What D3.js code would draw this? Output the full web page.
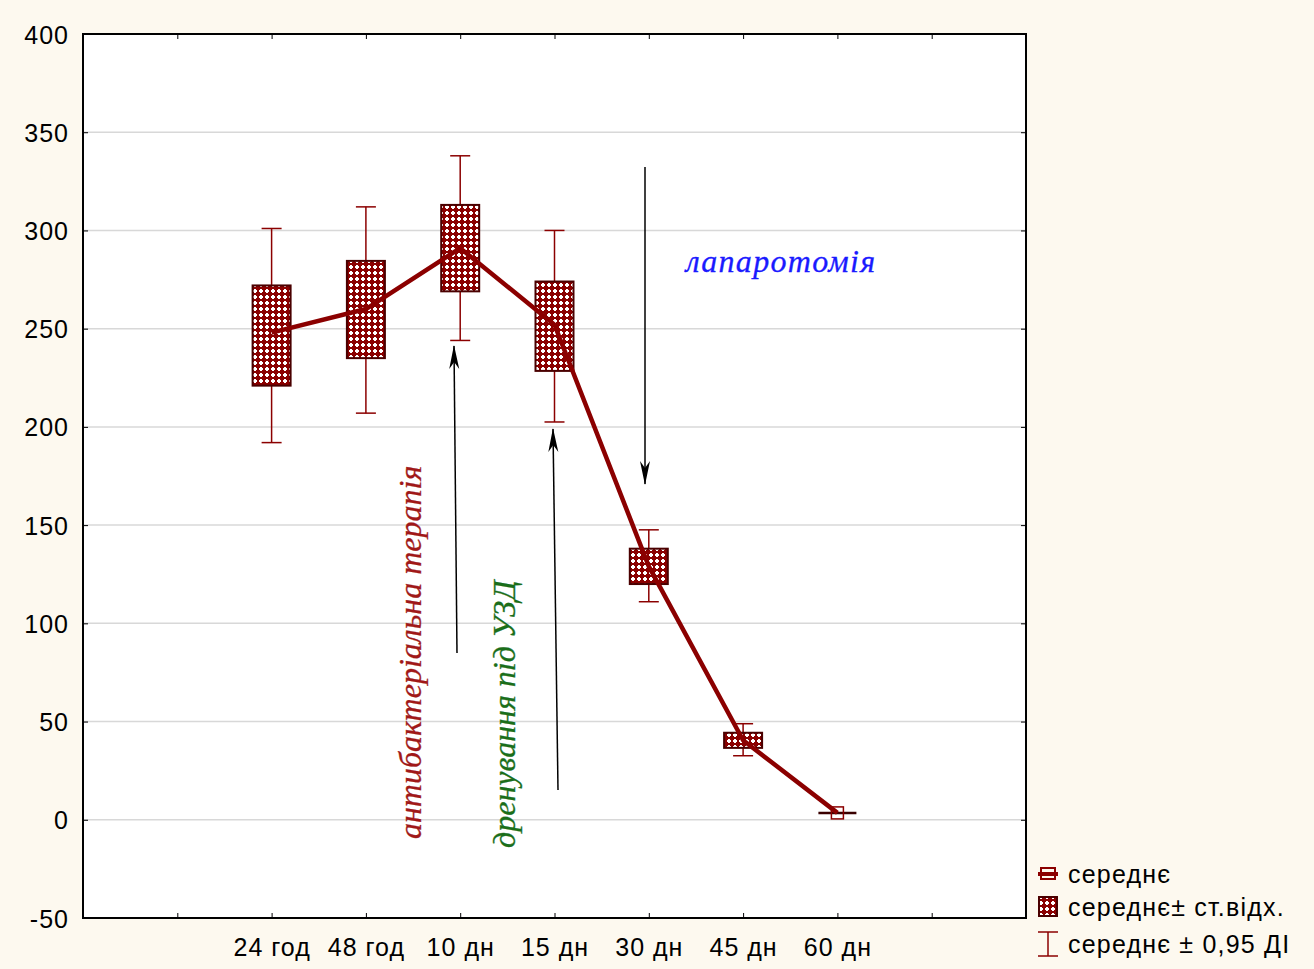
<!DOCTYPE html>
<html><head><meta charset="utf-8">
<script src="https://cdn.jsdelivr.net/npm/d3@7"></script>
<style>
body{margin:0;background:#fdf9ef;}
svg{display:block;}
</style></head>
<body>
<svg id="chart" width="1314" height="969"></svg>
<script>
const categories = ["24 год","48 год","10 дн","15 дн","30 дн","45 дн","60 дн"];
const catPos = [2,3,4,5,6,7,8];
const means = [248, 260, 291, 252, 129, 40.5, 3.5];
const sdLow = [221, 235, 269, 228.5, 120, 36.6, 3.5];
const sdHigh = [272, 284.5, 313, 274, 138, 44.3, 3.5];
const ciLow = [192, 207, 244, 202.5, 111, 32.6, 3.5];
const ciHigh = [301, 312, 338, 300, 147.6, 48.9, 3.5];
const yTicks = [-50,0,50,100,150,200,250,300,350,400];
const legendLabels = ["середнє","середнє± ст.відх.","середнє ± 0,95 ДІ"];

const svg = d3.select("#chart");
const L=83, R=1026, T=34, B=918;
const x = d3.scaleLinear().domain([0,10]).range([L,R]);
const y = d3.scaleLinear().domain([-50,400]).range([B,T]);
const red = "#8b0000", dark="#4a0000";

const defs = svg.append("defs");
const pat = defs.append("pattern").attr("id","chk").attr("patternUnits","userSpaceOnUse")
  .attr("width",6).attr("height",6);
pat.append("rect").attr("width",6).attr("height",6).attr("fill","#8b0000");
pat.append("rect").attr("x",2).attr("y",1).attr("width",2).attr("height",4).attr("fill","#fff");
pat.append("rect").attr("x",1).attr("y",2).attr("width",4).attr("height",2).attr("fill","#fff");
const mk = defs.append("marker").attr("id","arr").attr("viewBox","0 0 24 12")
  .attr("refX",23).attr("refY",6).attr("markerWidth",24).attr("markerHeight",12)
  .attr("markerUnits","userSpaceOnUse").attr("orient","auto");
mk.append("path").attr("d","M0,1 L24,6 L0,11 L7,6 Z").attr("fill","#000");

svg.append("rect").attr("x",L).attr("y",T).attr("width",R-L).attr("height",B-T).attr("fill","#fff");

// grid
svg.append("g").selectAll("line").data(yTicks.filter(d=>d>-50&&d<400)).join("line")
  .attr("x1",L).attr("x2",R).attr("y1",d=>y(d)).attr("y2",d=>y(d))
  .attr("stroke","#d8d8d8").attr("stroke-width",1.5);

// axes
const fontAx = "Liberation Sans, Arial, sans-serif";
const ya = svg.append("g").attr("transform",`translate(${L},0)`)
  .call(d3.axisLeft(y).tickValues(yTicks).tickSize(0).tickPadding(14).tickFormat(d=>String(d)));
ya.select(".domain").remove();
ya.selectAll("text").attr("font-family",fontAx).attr("font-size",25).attr("letter-spacing",1).attr("fill","#000")
  .attr("dy","0.36em");
const yr = svg.append("g").attr("transform",`translate(${R},0)`)
  .call(d3.axisLeft(y).tickValues(yTicks).tickSize(5).tickFormat(""));
yr.select(".domain").remove(); yr.selectAll("line").attr("stroke","#000");
const yl = svg.append("g").attr("transform",`translate(${L},0)`)
  .call(d3.axisRight(y).tickValues(yTicks).tickSize(5).tickFormat(""));
yl.select(".domain").remove(); yl.selectAll("line").attr("stroke","#000");

const xt = d3.range(1,10);
const xb = svg.append("g").attr("transform",`translate(0,${B})`)
  .call(d3.axisTop(x).tickValues(xt).tickSize(5).tickFormat(""));
xb.select(".domain").remove(); xb.selectAll("line").attr("stroke","#000");
const xtop = svg.append("g").attr("transform",`translate(0,${T})`)
  .call(d3.axisBottom(x).tickValues(xt).tickSize(5).tickFormat(""));
xtop.select(".domain").remove(); xtop.selectAll("line").attr("stroke","#000");
const xl = svg.append("g").attr("transform",`translate(0,${B})`)
  .call(d3.axisBottom(x).tickValues(catPos).tickSize(0).tickPadding(20)
    .tickFormat((d,i)=>categories[i]));
xl.select(".domain").remove();
xl.selectAll("text").attr("font-family",fontAx).attr("font-size",25).attr("letter-spacing",1).attr("fill","#000");

svg.append("rect").attr("x",L).attr("y",T).attr("width",R-L).attr("height",B-T)
  .attr("fill","none").attr("stroke","#000").attr("stroke-width",2);

// data
const idx = d3.range(categories.length);
const g = svg.append("g");
const cap = 10, bw = 19;
idx.forEach(i=>{
  const cx = x(catPos[i]);
  g.append("line").attr("x1",cx).attr("x2",cx).attr("y1",y(ciHigh[i])).attr("y2",y(ciLow[i]))
    .attr("stroke",red).attr("stroke-width",1.5);
  [ciHigh[i],ciLow[i]].forEach(v=>g.append("line").attr("x1",cx-cap).attr("x2",cx+cap)
    .attr("y1",y(v)).attr("y2",y(v)).attr("stroke",red).attr("stroke-width",1.5));
  const h = y(sdLow[i])-y(sdHigh[i]);
  if(h>0.5){
    g.append("rect").attr("x",cx-bw).attr("y",y(sdHigh[i])).attr("width",2*bw).attr("height",h)
      .attr("fill","url(#chk)").attr("stroke",dark).attr("stroke-width",2);
  } else {
    g.append("line").attr("x1",cx-bw).attr("x2",cx+bw).attr("y1",y(sdHigh[i])).attr("y2",y(sdHigh[i]))
      .attr("stroke","#3a0000").attr("stroke-width",2.5);
    g.append("rect").attr("x",cx-6).attr("y",y(means[i])-6).attr("width",12).attr("height",12)
      .attr("fill","none").attr("stroke",red).attr("stroke-width",1.5);
  }
});
g.append("path").datum(idx)
  .attr("d",d3.line().x(i=>x(catPos[i])).y(i=>y(means[i])))
  .attr("fill","none").attr("stroke",red).attr("stroke-width",4.5).attr("stroke-linejoin","round");

// annotations
const ann = svg.append("g");
const arrow = (x1,y1,x2,y2)=>ann.append("line").attr("x1",x1).attr("y1",y1).attr("x2",x2).attr("y2",y2)
  .attr("stroke","#000").attr("stroke-width",1.5).attr("marker-end","url(#arr)");
arrow(645,167,645,484);
arrow(457,653,454,346);
arrow(558,790,553,429);
const serif = "Liberation Serif, Times New Roman, serif";
ann.append("text").attr("x",781).attr("y",272).attr("text-anchor","middle")
  .attr("font-family",serif).attr("font-style","italic").attr("font-size",32).attr("letter-spacing",1.3)
  .attr("fill","#1a1aff").attr("stroke","#1a1aff").attr("stroke-width",0.3)
  .text("лапаротомія");
ann.append("text").attr("transform","translate(421,839) rotate(-90)")
  .attr("font-family",serif).attr("font-style","italic").attr("font-size",32)
  .attr("fill","#a01818").attr("stroke","#a01818").attr("stroke-width",0.3)
  .text("антибактеріальна терапія");
ann.append("text").attr("transform","translate(515,848) rotate(-90)")
  .attr("font-family",serif).attr("font-style","italic").attr("font-size",32)
  .attr("fill","#1a6e1a").attr("stroke","#1a6e1a").attr("stroke-width",0.3)
  .text("дренування під УЗД");

// legend
const lg = svg.append("g");
const ly = [874, 907, 944];
lg.append("rect").attr("x",1041).attr("y",ly[0]-6).attr("width",14).attr("height",11)
  .attr("fill","none").attr("stroke",red).attr("stroke-width",2);
lg.append("line").attr("x1",1038).attr("x2",1058).attr("y1",ly[0]).attr("y2",ly[0])
  .attr("stroke",red).attr("stroke-width",4);
lg.append("rect").attr("x",1039).attr("y",ly[1]-10).attr("width",18).attr("height",19)
  .attr("fill","url(#chk)").attr("stroke",dark).attr("stroke-width",2);
lg.append("line").attr("x1",1048).attr("x2",1048).attr("y1",ly[2]-12).attr("y2",ly[2]+12)
  .attr("stroke",red).attr("stroke-width",1.5);
[ly[2]-12,ly[2]+12].forEach(v=>lg.append("line").attr("x1",1038).attr("x2",1058).attr("y1",v).attr("y2",v)
  .attr("stroke",red).attr("stroke-width",1.5));
lg.selectAll("text.l").data(legendLabels).join("text").attr("class","l")
  .attr("x",1068).attr("y",(d,i)=>ly[i]+9)
  .attr("font-family",fontAx).attr("font-size",25).attr("letter-spacing",1.2).attr("fill","#000").text(d=>d);
</script>
</body></html>
